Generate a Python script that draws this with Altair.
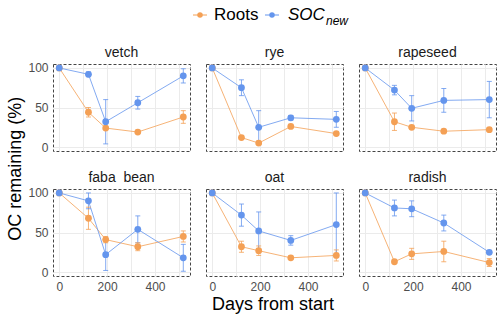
import altair as alt
import pandas as pd

crops = ["vetch", "rye", "rapeseed", "faba\u00a0 bean", "oat", "radish"]
days = [0, 122, 194, 328, 518]

roots_mean = [
    [100, 44, 24, 19, 38],
    [100, 12, 5, 26, 17],
    [100, 32, 25, 20, 22],
    [100, 68, 41, 32, 45],
    [100, 32, 27, 18, 21],
    [100, 13, 23, 26, 12],
]
roots_err = [
    [0, 6, 2, 2, 8],
    [0, 2, 2, 2, 2],
    [0, 11, 2, 2, 2],
    [0, 14, 4, 5, 7],
    [0, 7, 6, 2, 7],
    [0, 2, 7, 13, 5],
]
soc_mean = [
    [100, 92, 32, 56, 90],
    [100, 75, 25, 37, 35],
    [100, 72, 49, 59, 60],
    [100, 90, 22, 54, 18],
    [100, 72, 52, 40, 60],
    [100, 81, 80, 62, 25],
]
soc_err = [
    [0, 3, 28, 8, 9],
    [0, 10, 21, 3, 10],
    [0, 6, 16, 15, 23],
    [0, 10, 20, 17, 17],
    [0, 14, 24, 6, 40],
    [0, 10, 10, 10, 2],
]

ORANGE = "#F4A055"
BLUE = "#6495ED"
FONT = "Liberation Sans"

rows = []
for i, c in enumerate(crops):
    for series, m, e in [("Roots", roots_mean, roots_err), ("SOC", soc_mean, soc_err)]:
        for d, v, s in zip(days, m[i], e[i]):
            rows.append({"crop": c, "series": series, "day": d, "value": v,
                         "lo": v - s, "hi": v + s})
df = pd.DataFrame(rows)

color = alt.Color("series:N", scale=alt.Scale(domain=["Roots", "SOC"], range=[ORANGE, BLUE]),
                  legend=None)

xenc = alt.X("day:Q", scale=alt.Scale(domain=[-26, 546], nice=False, zero=False),
             axis=alt.Axis(values=[0, 100, 200, 300, 400, 500],
                           labelExpr="datum.value % 200 == 0 ? datum.label : ''",
                           title=None, ticks=False, domain=False,
                           gridColor="#EBEBEB", labelColor="#4D4D4D", labelFontSize=12,
                           labelPadding=4, labelFont=FONT))
yenc = alt.Y("value:Q", scale=alt.Scale(domain=[-5, 105], nice=False, zero=False),
             axis=alt.Axis(values=[0, 12.5, 25, 37.5, 50, 62.5, 75, 87.5, 100],
                           labelExpr="datum.value % 25 == 0 ? datum.label : ''",
                           title=None, ticks=False, domain=False,
                           gridColor="#EBEBEB", labelColor="#4D4D4D", labelFontSize=12,
                           labelPadding=4, labelFont=FONT))

base = alt.Chart().encode(x=xenc, color=color)

lines = base.mark_line(strokeWidth=1, opacity=0.8).encode(y=yenc, detail="series:N")
rules = base.mark_rule(strokeWidth=1, opacity=0.8).encode(y="lo:Q", y2="hi:Q")
caps_lo = base.mark_tick(orient="horizontal", size=5, thickness=1, opacity=0.8).encode(y="lo:Q")
caps_hi = base.mark_tick(orient="horizontal", size=5, thickness=1, opacity=0.8).encode(y="hi:Q")
points = base.mark_circle(size=46, opacity=1).encode(y=yenc)

panel = alt.layer(lines, rules, caps_lo, caps_hi, points, data=df).properties(width=137, height=87)

facet = panel.facet(
    facet=alt.Facet("crop:N", sort=crops,
                    header=alt.Header(title=None, labelFontSize=14, labelColor="#1A1A1A",
                                      labelFont=FONT, labelPadding=4)),
    columns=3, spacing={"row": 18, "column": 14},
    title=alt.TitleParams("OC remaining (%)", orient="left", anchor="middle",
                          fontSize=18, fontWeight="normal", font=FONT, color="black",
                          offset=3)
)

# custom legend (top)
leg_df = pd.DataFrame({"series": ["Roots", "SOC"]})
leg_w = 440
no_box = alt.ViewBackground(strokeOpacity=0)
r1 = alt.Chart(leg_df).transform_filter("datum.series == 'Roots'")
r2 = alt.Chart(leg_df).transform_filter("datum.series == 'SOC'")


def key(src, xc, col):
    ln = src.mark_rule(color=col, strokeWidth=1).encode(
        x=alt.value(xc - 7), x2=alt.value(xc + 7), y=alt.value(14))
    pt = src.mark_circle(color=col, size=30, opacity=1).encode(
        x=alt.value(xc), y=alt.value(14))
    return ln + pt


t_roots = r1.mark_text(align="left", baseline="middle", fontSize=17, font=FONT,
                       color="black").encode(x=alt.value(161), y=alt.value(14),
                                             text="series:N")
t_soc = r2.mark_text(align="left", baseline="middle", fontSize=17, font=FONT,
                     fontStyle="italic", color="black").encode(
    x=alt.value(235), y=alt.value(14), text="series:N")
t_new = r2.mark_text(align="left", baseline="middle", fontSize=12, font=FONT,
                     fontStyle="italic", color="black").encode(
    x=alt.value(273), y=alt.value(20), text=alt.value("new"))

legend = alt.layer(key(r1, 147, ORANGE), t_roots, key(r2, 219, BLUE), t_soc, t_new).properties(
    width=leg_w, height=40, view=no_box)

xtitle = alt.Chart(leg_df.head(1)).mark_text(
    align="center", baseline="middle", fontSize=18, font=FONT, color="black").encode(
    x=alt.value(220), y=alt.value(9), text=alt.value("Days from start")).properties(
    width=leg_w, height=18, view=no_box)

chart = alt.vconcat(legend, facet, xtitle, spacing=4).configure_view(
    stroke="#444444", strokeDash=[3, 2], strokeWidth=1
).configure_concat(spacing=4).properties(
    padding={"left": 6, "top": 1, "right": 2, "bottom": 1}
)

chart.save("out.html", embed_options={"renderer": "svg", "actions": False})
